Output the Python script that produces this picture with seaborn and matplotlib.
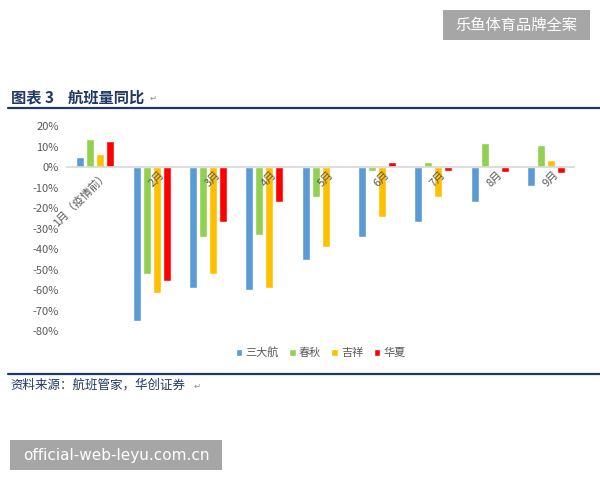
import matplotlib
matplotlib.use('Agg')
import matplotlib.pyplot as plt
from matplotlib.patches import Rectangle
import pandas as pd
import seaborn as sns

# Datos del gráfico
months = ['1月（疫情前）', '2月', '3月', '4月', '5月', '6月', '7月', '8月', '9月']
airlines = ['三大航', '春秋', '吉祥', '华夏']
sandahang = [5, -75, -59, -60, -45.5, -34, -27, -17, -9.5]
chunqiu = [13.5, -52, -34, -33, -14.5, -2, 2.5, 11.5, 10.5]
jixiang = [6.5, -61.5, -52, -59, -39, -24.5, -14.5, 1, 3.5]
huaxia = [12.5, -55.5, -27, -17, 0.5, 2.5, -2, -2.5, -3]
colors = ['#5B9BD5', '#92D050', '#FFC000', '#FF0000']
yticks = [20, 10, 0, -10, -20, -30, -40, -50, -60, -70, -80]

sns.set_theme(style='white')
plt.rcParams['font.family'] = ['Noto Sans CJK SC', 'DejaVu Sans']

rows = []
for name, vals in zip(airlines, [sandahang, chunqiu, jixiang, huaxia]):
    for m, v in zip(months, vals):
        rows.append({'month': m, 'airline': name, 'value': v})
df = pd.DataFrame(rows)

fig = plt.figure(figsize=(6, 4.8), dpi=100)
ax = fig.add_axes([0.112, 0.3104, 0.845, 0.4271])

sns.barplot(data=df, x='month', y='value', hue='airline', order=months,
            hue_order=airlines, palette=colors, width=0.71, gap=0.22,
            saturation=1, ax=ax, legend=True)

ax.set_ylim(-80, 20)
ax.set_yticks(yticks)
ax.set_yticklabels([f'{t}%' for t in yticks], fontsize=8, color='#595959')
ax.set_xlabel('')
ax.set_ylabel('')
for s in ['top', 'right', 'left']:
    ax.spines[s].set_visible(False)
ax.spines['bottom'].set_position(('data', 0))
ax.spines['bottom'].set_color('#D9D9D9')
ax.tick_params(axis='both', length=0)
ax.tick_params(axis='y', pad=6)

# Etiquetas de categoría encima de las barras
ax.set_xticks(range(len(months)))
ax.set_xticklabels([])
for i, m in enumerate(months):
    ax.text(i + 0.13, -1.2, m, rotation=45, ha='right', va='top',
            rotation_mode='anchor', fontsize=8, color='#595959', zorder=10,
            clip_on=False)

leg = ax.legend(loc='center', bbox_to_anchor=(0.5, -0.105), ncol=4, frameon=False,
                fontsize=8, handlelength=0.6, handleheight=0.6, handletextpad=0.3,
                columnspacing=0.9)
for t in leg.get_texts():
    t.set_color('#595959')

# Título y líneas
navy = '#1F3864'
fig.text(0.018, 0.798, '图表 3    航班量同比', fontsize=11, fontweight='bold',
         color=navy, va='center', ha='left')
fig.text(0.25, 0.795, '↵', fontsize=6, color='#888888', va='center')
fig.add_artist(plt.Line2D([0.013, 1.0], [0.775, 0.775], color=navy, lw=1.6))
fig.add_artist(plt.Line2D([0.013, 1.0], [0.221, 0.221], color=navy, lw=1.6))
fig.text(0.018, 0.197, '资料来源：航班管家，华创证券', fontsize=9, style='italic',
         color=navy, va='center', ha='left')
fig.text(0.322, 0.195, '↵', fontsize=6, color='#888888', va='center')

# Marcas de agua
fig.add_artist(Rectangle((0.738, 0.917), 0.245, 0.062, transform=fig.transFigure,
                         facecolor='#A6A6A6', edgecolor='none'))
fig.text(0.8605, 0.948, '乐鱼体育品牌全案', fontsize=11, color='white',
         ha='center', va='center')
fig.add_artist(Rectangle((0.017, 0.021), 0.353, 0.062, transform=fig.transFigure,
                         facecolor='#A6A6A6', edgecolor='none'))
fig.text(0.1935, 0.052, 'official-web-leyu.com.cn', fontsize=11, color='white',
         ha='center', va='center', family='DejaVu Sans')

fig.savefig('out.png', dpi=100)
plt.close(fig)
